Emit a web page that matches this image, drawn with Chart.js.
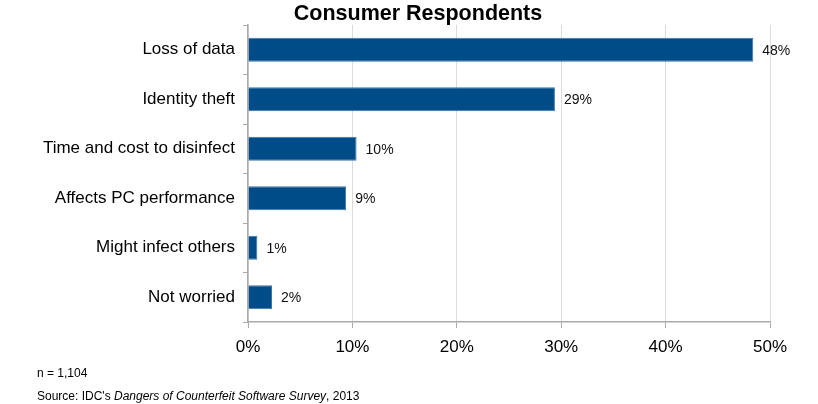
<!DOCTYPE html>
<html>
<head>
<meta charset="utf-8">
<script src="https://cdn.jsdelivr.net/npm/chart.js@4"></script>
<style>
  html, body { margin: 0; padding: 0; background: #fff; }
  #wrap { position: relative; width: 818px; height: 404px; }
  .note { position: absolute; left: 37px; font-family: "Liberation Sans", Arial, sans-serif; font-size: 12px; color: #000; }
  #title { position: absolute; left: 0; top: 0; width: 836px; text-align: center; font-family: "Liberation Sans", Arial, sans-serif; font-weight: bold; font-size: 21.5px; line-height: 27px; color: #000; }
</style>
</head>
<body>
<div id="wrap">
  <canvas id="respChart" width="818" height="404"></canvas>
  <div id="title">Consumer Respondents</div>
  <div class="note" style="top:366px">n = 1,104</div>
  <div class="note" style="top:389px">Source: IDC's <i>Dangers of Counterfeit Software Survey</i>, 2013</div>
</div>
<script>
  // Données
  const categories = ['Loss of data', 'Identity theft', 'Time and cost to disinfect', 'Affects PC performance', 'Might infect others', 'Not worried'];
  const values = [48.4, 29.4, 10.4, 9.4, 0.9, 2.3];
  const valueLabels = ['48%', '29%', '10%', '9%', '1%', '2%'];
  const xTicks = [0, 10, 20, 30, 40, 50];

  // Étiquettes de valeur à droite des barres
  const barLabels = {
    id: 'barLabels',
    afterDatasetsDraw(chart) {
      const ctx = chart.ctx;
      const meta = chart.getDatasetMeta(0);
      ctx.save();
      ctx.font = '14px "Liberation Sans", Arial, sans-serif';
      ctx.fillStyle = '#111';
      ctx.textBaseline = 'middle';
      meta.data.forEach((bar, i) => {
        ctx.fillText(valueLabels[i], bar.x + 9, bar.y + 1);
      });
      ctx.restore();
    }
  };

  const ctx = document.getElementById('respChart').getContext('2d');
  const respChart = new Chart(ctx, {
    type: 'bar',
    data: {
      labels: categories,
      datasets: [{
        data: values,
        backgroundColor: '#004c88',
        borderColor: '#3f74a8',
        borderWidth: 1,
        barPercentage: 0.485,
        categoryPercentage: 1
      }]
    },
    options: {
      indexAxis: 'y',
      responsive: false,
      animation: false,
      layout: { padding: { left: 0, right: 48, top: 25, bottom: 36 } },
      plugins: {
        legend: { display: false },
        tooltip: { enabled: false },
        title: { display: false }
      },
      scales: {
        x: {
          min: 0,
          max: 50,
          afterBuildTicks: (scale) => { scale.ticks = xTicks.map(v => ({ value: v })); },
          afterFit: (scale) => { scale.height = 46; },
          grid: { color: '#dcdcdc', tickLength: 6, tickColor: '#aaa' },
          border: { color: '#aaa', width: 1.5 },
          ticks: {
            color: '#000',
            padding: 9,
            font: { family: '"Liberation Sans", Arial, sans-serif', size: 17 },
            callback: (v) => v + '%'
          }
        },
        y: {
          afterFit: (scale) => { scale.width = 248; },
          grid: { drawOnChartArea: false, offset: true, tickLength: 5, color: '#aaa' },
          border: { color: '#aaa', width: 1.5 },
          ticks: {
            color: '#000',
            padding: 8,
            font: { family: '"Liberation Sans", Arial, sans-serif', size: 17 }
          }
        }
      }
    },
    plugins: [barLabels]
  });
</script>
</body>
</html>
